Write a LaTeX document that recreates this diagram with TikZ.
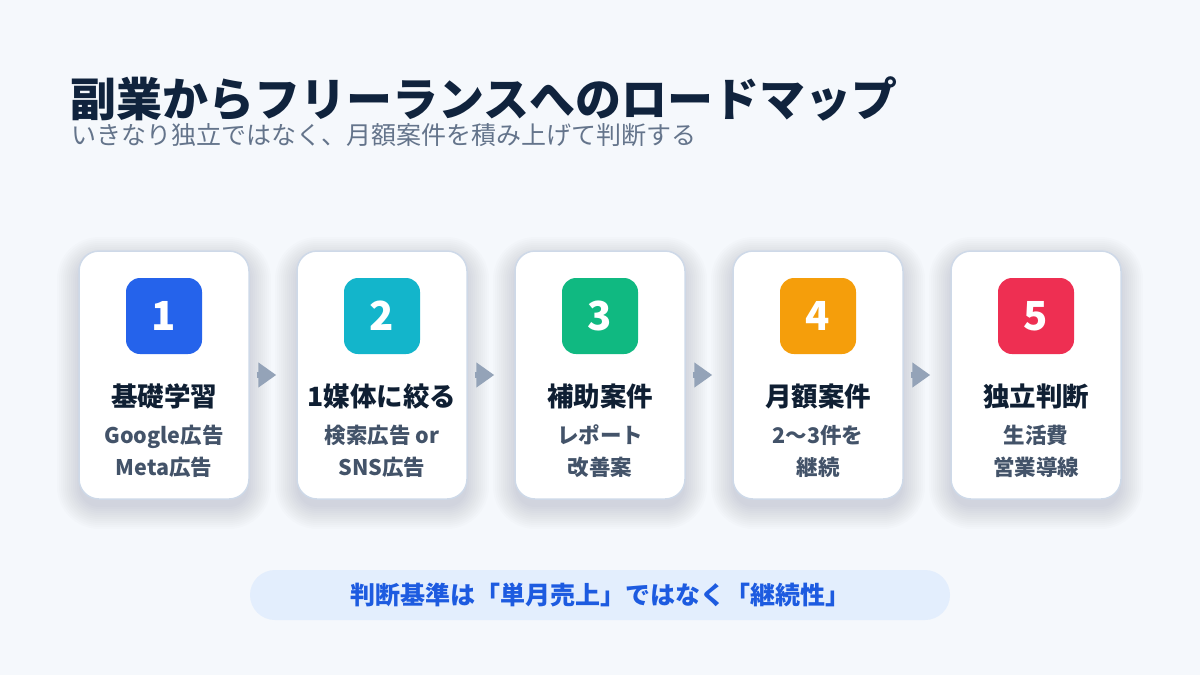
\documentclass[tikz,border=0pt]{standalone}
\usepackage{fontspec}
\setmainfont{Noto Sans CJK JP}
\usetikzlibrary{arrows.meta,positioning,calc}
\definecolor{bg}{HTML}{F5F8FC}
\definecolor{titlec}{HTML}{10233D}
\definecolor{subc}{HTML}{64748B}
\definecolor{cardborder}{HTML}{CED9E8}
\definecolor{cardtitle}{HTML}{0F1F33}
\definecolor{cardsub}{HTML}{435369}
\definecolor{arrowc}{HTML}{94A3B8}
\definecolor{pillfill}{HTML}{E3EEFD}
\definecolor{pilltext}{HTML}{1D5BE0}
\definecolor{shadowc}{HTML}{1E2A40}
\definecolor{cA}{HTML}{2563EB}
\definecolor{cB}{HTML}{13B5CB}
\definecolor{cC}{HTML}{10B981}
\definecolor{cD}{HTML}{F59E0B}
\definecolor{cE}{HTML}{EE2F52}
\tikzset{
  card/.style={draw=cardborder, line width=1.5pt, fill=white, rounded corners=20pt,
    minimum width=170pt, minimum height=248pt, inner sep=0pt},
  shadowlayer/.style={fill=shadowc, fill opacity=0.011, draw=none},
  badge/.style={fill=#1, rounded corners=14pt, minimum width=76pt, minimum height=76pt,
    inner sep=0pt, text=white, font=\fontsize{40}{42}\selectfont\bfseries},
  ctitle/.style={font=\fontsize{26.5}{30}\selectfont\bfseries, text=cardtitle, inner sep=0pt},
  csub/.style={font=\fontsize{21.5}{32}\selectfont\bfseries, text=cardsub, align=center, inner sep=0pt},
  flow/.style={draw=arrowc, line width=6pt, -{Triangle[length=18pt,width=24pt]}},
}
\begin{document}
\begin{tikzpicture}[x=1pt,y=-1pt]
\useasboundingbox[fill=bg] (0,0) rectangle (1200,675);
\node[anchor=west, inner sep=0pt, text=titlec, font=\fontsize{46}{48}\selectfont\bfseries] (title) at (70,99) {副業からフリーランスへのロードマップ};
\node[anchor=west, inner sep=0pt, text=subc, font=\fontsize{25}{28}\selectfont] (subtitle) at (71,135) {いきなり独立ではなく、月額案件を積み上げて判断する};
\foreach \i/\x/\col/\num/\ttl/\sub in {
  1/164/cA/1/基礎学習/{Google広告\\Meta広告},
  2/382/cB/2/1媒体に絞る/{検索広告 or\\SNS広告},
  3/600/cC/3/補助案件/{レポート\\改善案},
  4/818/cD/4/月額案件/{2〜3件を\\継続},
  5/1036/cE/5/独立判断/{生活費\\営業導線}} {
  \foreach \k in {0,...,11} {
    \pgfmathsetmacro{\e}{2*\k}
    \fill[shadowlayer, rounded corners={20pt+\e pt}]
      (\x-85-\e, 259-\e) rectangle (\x+85+\e, 507+\e);
  }
  \node[card] (card\i) at (\x,375) {};
  \node[badge=\col] (badge\i) at (\x,316) {\num};
  \node[ctitle] (ttl\i) at (\x,396) {\ttl};
  \node[csub] (sub\i) at (\x,451) {\sub};
}
\foreach \i/\j in {1/2,2/3,3/4,4/5} {
  \coordinate (s\i) at ($(card\i.east)+(7,0)$);
  \coordinate (e\i) at ($(card\j.west)+(-20,0)$);
  \draw[flow] (s\i) -- (e\i);
}
\node[fill=pillfill, rounded corners=25pt, minimum width=700pt, minimum height=50pt, inner sep=0pt,
  text=pilltext, font=\fontsize{25}{27}\selectfont\bfseries] (pill) at (600,595) {判断基準は「単月売上」ではなく「継続性」};
\end{tikzpicture}
\end{document}
